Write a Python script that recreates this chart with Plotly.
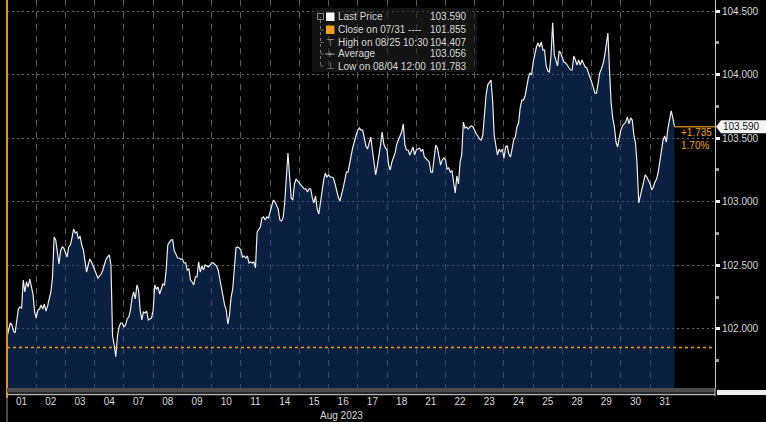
import plotly.graph_objects as go

# ---------------- data ----------------
day_labels = ["01", "02", "03", "04", "07", "08", "09", "10", "11", "14", "15", "16",
              "17", "18", "21", "22", "23", "24", "25", "28", "29", "30", "31"]
month_label = "Aug 2023"
POINTS_PER_DAY = 18

price = [
    # 01
    101.937, 102.000, 102.047, 102.032, 101.984, 101.969, 102.086, 102.157, 102.173, 102.165, 102.385, 102.291, 102.369, 102.330, 102.393, 102.322, 102.275, 102.134,
    # 02
    102.086, 102.149, 102.157, 102.189, 102.157, 102.196, 102.141, 102.181, 102.236, 102.291, 102.401, 102.723, 102.700, 102.590, 102.511, 102.613, 102.645, 102.637,
    # 03
    102.597, 102.566, 102.645, 102.660, 102.715, 102.786, 102.755, 102.763, 102.708, 102.731, 102.660, 102.621, 102.535, 102.448, 102.503, 102.550, 102.527, 102.495,
    # 04
    102.464, 102.424, 102.401, 102.417, 102.432, 102.464, 102.511, 102.550, 102.566, 102.582, 102.503, 101.945, 101.874, 101.783, 101.945, 102.016, 102.047, 102.047,
    # 07
    102.016, 102.032, 102.079, 102.094, 102.149, 102.244, 102.291, 102.236, 102.346, 102.306, 102.149, 102.071, 102.134, 102.126, 102.141, 102.071, 102.079, 102.086,
    # 08
    102.149, 102.346, 102.314, 102.330, 102.275, 102.322, 102.354, 102.346, 102.464, 102.660, 102.684, 102.700, 102.700, 102.613, 102.590, 102.558, 102.558, 102.550,
    # 09
    102.550, 102.519, 102.519, 102.464, 102.472, 102.385, 102.369, 102.346, 102.409, 102.409, 102.527, 102.448, 102.495, 102.464, 102.503, 102.495, 102.487, 102.503,
    # 10
    102.519, 102.519, 102.503, 102.495, 102.464, 102.393, 102.306, 102.228, 102.189, 102.149, 102.039, 102.110, 102.251, 102.314, 102.464, 102.637, 102.645, 102.637,
    # 11
    102.621, 102.566, 102.574, 102.558, 102.574, 102.519, 102.527, 102.519, 102.527, 102.480, 102.763, 102.778, 102.802, 102.873, 102.881, 102.857, 102.881, 102.873,
    # 14
    102.920, 102.975, 103.014, 102.998, 102.975, 102.943, 102.857, 102.849, 102.873, 102.991, 103.187, 103.384, 103.203, 103.030, 103.014, 103.140, 103.179, 103.164,
    # 15
    103.148, 103.140, 103.124, 103.101, 103.101, 103.077, 103.101, 103.101, 103.030, 102.991, 103.046, 102.943, 102.904, 102.998, 103.093, 103.171, 103.226, 103.195,
    # 16
    103.211, 103.195, 103.195, 103.187, 103.140, 103.077, 103.038, 103.006, 103.053, 103.109, 103.171, 103.234, 103.234, 103.313, 103.368, 103.431, 103.486, 103.525,
    # 17
    103.564, 103.580, 103.564, 103.564, 103.502, 103.439, 103.415, 103.462, 103.509, 103.407, 103.289, 103.211, 103.281, 103.352, 103.446, 103.549, 103.454, 103.423,
    # 18
    103.407, 103.289, 103.250, 103.313, 103.352, 103.384, 103.454, 103.486, 103.517, 103.549, 103.612, 103.446, 103.407, 103.407, 103.368, 103.407, 103.431, 103.368,
    # 21
    103.407, 103.415, 103.423, 103.399, 103.415, 103.352, 103.336, 103.321, 103.313, 103.234, 103.234, 103.344, 103.446, 103.423, 103.368, 103.289, 103.329, 103.344,
    # 22
    103.329, 103.258, 103.266, 103.234, 103.242, 103.156, 103.069, 103.203, 103.140, 103.313, 103.368, 103.627, 103.580, 103.588, 103.572, 103.588, 103.596, 103.588,
    # 23
    103.557, 103.533, 103.517, 103.494, 103.486, 103.525, 103.682, 103.840, 103.918, 103.942, 103.957, 103.800, 103.525, 103.446, 103.368, 103.415, 103.391, 103.415,
    # 24
    103.344, 103.431, 103.439, 103.376, 103.352, 103.415, 103.486, 103.509, 103.588, 103.619, 103.737, 103.800, 103.800, 103.832, 103.910, 103.973, 104.013, 103.997,
    # 25
    104.099, 104.170, 104.217, 104.248, 104.217, 104.256, 104.193, 104.193, 104.068, 104.028, 104.020, 104.154, 104.407, 104.154, 104.099, 104.068, 104.186, 104.170,
    # 28
    104.131, 104.099, 104.091, 104.075, 104.052, 104.036, 104.036, 104.146, 104.115, 104.075, 104.115, 104.075, 104.115, 104.091, 104.060, 104.052, 104.020, 103.981,
    # 29
    103.942, 103.902, 103.855, 103.855, 103.942, 104.013, 104.044, 104.083, 104.146, 104.225, 104.327, 104.036, 103.777, 103.659, 103.588, 103.470, 103.431, 103.502,
    # 30
    103.564, 103.596, 103.612, 103.627, 103.667, 103.612, 103.659, 103.643, 103.525, 103.462, 103.289, 102.991, 103.046, 103.109, 103.171, 103.211, 103.195, 103.171,
    # 31
    103.140, 103.093, 103.116, 103.156, 103.179, 103.234, 103.313, 103.407, 103.486, 103.517, 103.470, 103.580, 103.659, 103.714, 103.659, 103.590,
]

prev_close = 101.855
y_ticks = [102.0, 102.5, 103.0, 103.5, 104.0, 104.5]

legend_names = ["Last Price", "Close on 07/31 ----", "High on 08/25 10:30", "Average", "Low on 08/04 12:00"]
legend_values = ["103.590", "101.855", "104.407", "103.056", "101.783"]
change_text = ["+1.735", "1.70%"]

# ---------------- geometry ----------------
W, H = 766, 422
L, R, T, B = 7, 51, 0, 34
PW, PH = W - L - R, H - T - B
X_MAX = 24.22
Y_MIN, Y_MAX = 101.536, 104.5865


def fx(px):
    return (px - L) / PW


def fy(py):
    return 1 - (py - T) / PH


x = [i / POINTS_PER_DAY for i in range(len(price))]
last = price[-1]

ORANGE = "#f0a020"
TXT = "#d8d8d8"
FONT = "Liberation Sans"
NUM = 10      # numeric text size
LBL = 10      # label text size

fig = go.Figure()
fig.add_trace(go.Scatter(
    x=x, y=price, mode="lines",
    line=dict(color="#ececec", width=1.2),
    fill="tozeroy", fillcolor="rgba(22,60,122,0.52)",
    hoverinfo="skip", showlegend=False,
))

shapes = []
# previous close dotted line
shapes.append(dict(type="line", xref="paper", yref="y", x0=0, x1=1, y0=prev_close, y1=prev_close,
                   line=dict(color="#e8a000", width=1.5, dash="dot"), layer="above"))
# last price line
shapes.append(dict(type="line", xref="x", yref="y", x0=x[-1], x1=X_MAX, y0=last, y1=last,
                   line=dict(color="#c07810", width=1.5), layer="above"))
# last price tag
h = 6.5 * (Y_MAX - Y_MIN) / PH
shapes.append(dict(type="path", xref="paper", yref="y",
                   path=f"M {fx(716)} {last} L {fx(721)} {last + h} L {fx(766)} {last + h} "
                        f"L {fx(766)} {last - h} L {fx(721)} {last - h} Z",
                   fillcolor="#f4f4f4", line=dict(width=0), layer="above"))
# left orange edge
shapes.append(dict(type="line", xref="paper", yref="paper", x0=fx(7), x1=fx(7), y0=1, y1=fy(398),
                   line=dict(color="#e89010", width=2), layer="above"))
shapes.append(dict(type="line", xref="paper", yref="paper", x0=fx(7), x1=fx(7), y0=fy(398), y1=fy(422),
                   line=dict(color="#909090", width=1), layer="above"))
# bottom scrollbar band
shapes.append(dict(type="rect", xref="paper", yref="paper", x0=fx(7), x1=fx(715), y0=fy(388), y1=fy(392.5),
                   fillcolor="#4c4c4c", line=dict(width=0), layer="above"))
shapes.append(dict(type="line", xref="paper", yref="paper", x0=fx(7), x1=fx(715), y0=fy(394.5), y1=fy(394.5),
                   line=dict(color="#b0b0b0", width=1.5), layer="above"))
shapes.append(dict(type="rect", xref="paper", yref="paper", x0=fx(717), x1=fx(766), y0=fy(390), y1=fy(395),
                   fillcolor="#eeeeee", line=dict(width=0), layer="above"))
shapes.append(dict(type="line", xref="paper", yref="paper", x0=fx(715), x1=fx(715), y0=fy(388), y1=fy(396),
                   line=dict(color="#c8c8c8", width=1), layer="above"))
# legend box
shapes.append(dict(type="rect", xref="paper", yref="paper", x0=fx(312), x1=fx(477), y0=fy(8), y1=fy(72),
                   fillcolor="rgba(34,34,34,0.6)", line=dict(width=0), layer="above"))
# tree connector
shapes.append(dict(type="line", xref="paper", yref="paper", x0=fx(320.5), x1=fx(320.5), y0=fy(20), y1=fy(66),
                   line=dict(color="#777777", width=1, dash="dot"), layer="above"))
row_y = [16.7, 30, 42.5, 54, 66]
for ry in row_y[1:]:
    shapes.append(dict(type="line", xref="paper", yref="paper", x0=fx(320.5), x1=fx(326), y0=fy(ry), y1=fy(ry),
                       line=dict(color="#777777", width=1, dash="dot"), layer="above"))
# legend icons
shapes.append(dict(type="rect", xref="paper", yref="paper", x0=fx(326), x1=fx(334.5), y0=fy(12.5), y1=fy(21),
                   fillcolor="#ffffff", line=dict(width=0), layer="above"))
shapes.append(dict(type="rect", xref="paper", yref="paper", x0=fx(326), x1=fx(334.5), y0=fy(25.5), y1=fy(34),
                   fillcolor="#f0a020", line=dict(width=0), layer="above"))
shapes.append(dict(type="rect", xref="paper", yref="paper", x0=fx(317.5), x1=fx(323.5), y0=fy(13.5), y1=fy(19.5),
                   fillcolor="rgba(0,0,0,0)", line=dict(color="#888888", width=1), layer="above"))
shapes.append(dict(type="line", xref="paper", yref="paper", x0=fx(325), x1=fx(335), y0=fy(54), y1=fy(54),
                   line=dict(color="#888888", width=1), layer="above"))

annotations = []
for name, val, ry in zip(legend_names, legend_values, row_y):
    annotations.append(dict(xref="paper", yref="paper", x=fx(336.5), y=fy(ry), text=name, showarrow=False,
                            xanchor="left", yanchor="middle", borderpad=0,
                            font=dict(family=FONT, size=LBL, color=TXT)))
    annotations.append(dict(xref="paper", yref="paper", x=fx(468), y=fy(ry), text=val, showarrow=False,
                            xanchor="right", yanchor="middle", borderpad=0,
                            font=dict(family=FONT, size=NUM, color=TXT)))
annotations.append(dict(xref="paper", yref="paper", x=fx(330), y=fy(42.5), text="⊤", showarrow=False,
                        xanchor="center", yanchor="middle", font=dict(family="DejaVu Sans", size=10, color="#999999")))
annotations.append(dict(xref="paper", yref="paper", x=fx(330), y=fy(54), text="+", showarrow=False,
                        xanchor="center", yanchor="middle", font=dict(family="DejaVu Sans", size=9, color="#999999")))
annotations.append(dict(xref="paper", yref="paper", x=fx(330), y=fy(65.5), text="⊥", showarrow=False,
                        xanchor="center", yanchor="middle", font=dict(family="DejaVu Sans", size=10, color="#999999")))
annotations.append(dict(xref="paper", yref="paper", x=fx(320.5), y=fy(16.5), text="-", showarrow=False,
                        xanchor="center", yanchor="middle", font=dict(family=FONT, size=8, color="#999999")))
# last price tag text
annotations.append(dict(xref="paper", yref="y", x=fx(722), y=last, text=f"{last:.3f}", showarrow=False,
                        xanchor="left", yanchor="middle", borderpad=0,
                        font=dict(family=FONT, size=NUM, color="#111111")))
# change vs close
annotations.append(dict(xref="paper", yref="paper", x=fx(680), y=fy(132.5), text=change_text[0], showarrow=False,
                        xanchor="left", yanchor="middle", borderpad=0, font=dict(family=FONT, size=NUM, color=ORANGE)))
annotations.append(dict(xref="paper", yref="paper", x=fx(680), y=fy(145), text=change_text[1], showarrow=False,
                        xanchor="left", yanchor="middle", borderpad=0, font=dict(family=FONT, size=NUM, color=ORANGE)))
# month label
annotations.append(dict(xref="paper", yref="paper", x=fx(341), y=fy(415), text=month_label, showarrow=False,
                        xanchor="center", yanchor="middle", borderpad=0,
                        font=dict(family=FONT, size=LBL, color=TXT)))

fig.update_layout(
    width=W, height=H,
    margin=dict(l=L, r=R, t=T, b=B),
    paper_bgcolor="#000000", plot_bgcolor="#000000",
    showlegend=False,
    shapes=shapes, annotations=annotations,
    xaxis=dict(
        range=[0, X_MAX], showgrid=False, zeroline=False, showline=False,
        tickmode="array",
        tickvals=[k + 0.5 for k in range(len(day_labels))], ticktext=day_labels,
        ticks="", ticklabelstandoff=6,
        tickfont=dict(family=FONT, size=LBL, color=TXT),
        minor=dict(tickmode="array", tickvals=list(range(1, len(day_labels))),
                   showgrid=True, gridcolor="#5a5a5a", griddash="6px,6px", gridwidth=1, ticks=""),
        fixedrange=True,
    ),
    yaxis=dict(
        range=[Y_MIN, Y_MAX], side="right", zeroline=False,
        showline=True, linecolor="#c8c8c8", linewidth=1,
        tickmode="array", tickvals=y_ticks, ticktext=[f"{v:.3f}" for v in y_ticks],
        ticks="outside", ticklen=4, tickwidth=3, tickcolor="#f0f0f0",
        tickfont=dict(family=FONT, size=NUM, color=TXT),
        showgrid=True, gridcolor="#6a6a6a", griddash="2px,3px", gridwidth=1,
        minor=dict(dtick=0.25, tick0=102.0, ticks="outside", ticklen=3, tickcolor="#9a9a9a", showgrid=False),
        fixedrange=True,
    ),
)

fig.write_html("out.html")
